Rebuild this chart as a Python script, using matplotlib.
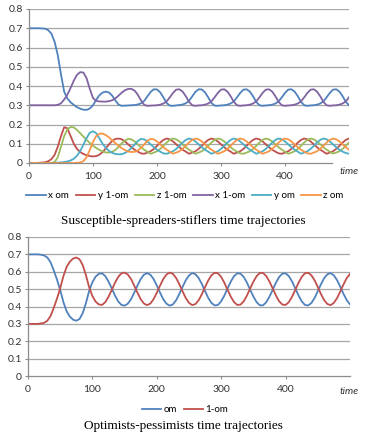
import numpy as np
import matplotlib
matplotlib.use('Agg')
from matplotlib import pyplot as plt

#############################################
#DATA (every 5 time units)
time = list(range(0, 505, 5))

x_om = [0.700, 0.700, 0.700, 0.700, 0.699, 0.698, 0.690, 0.672, 0.630, 0.560,
        0.460, 0.370, 0.335, 0.315, 0.302, 0.290, 0.282, 0.277, 0.276, 0.283,
        0.300, 0.328, 0.352, 0.366, 0.371, 0.366, 0.350, 0.325, 0.303, 0.297,
        0.298, 0.299, 0.300,
        0.301, 0.304, 0.310, 0.323, 0.346, 0.369, 0.383, 0.382, 0.367, 0.341, 0.312, 0.298, 0.297, 0.299,
        0.301, 0.304, 0.310, 0.323, 0.346, 0.369, 0.383, 0.382, 0.367, 0.341, 0.312, 0.298, 0.297, 0.299,
        0.300, 0.303, 0.309, 0.320, 0.341, 0.364, 0.381, 0.383, 0.371, 0.347, 0.318, 0.300, 0.297, 0.299,
        0.300, 0.303, 0.309, 0.320, 0.341, 0.364, 0.381, 0.383, 0.371, 0.347, 0.318, 0.300, 0.297, 0.299,
        0.300, 0.303, 0.309, 0.320, 0.341, 0.364, 0.381, 0.383, 0.371, 0.347, 0.318, 0.300]

y_1om = [0.000, 0.000, 0.000, 0.001, 0.002, 0.004, 0.009, 0.020, 0.042, 0.085,
         0.140, 0.186, 0.180, 0.140, 0.100, 0.073, 0.057, 0.047, 0.040, 0.036,
         0.034, 0.036, 0.043, 0.057, 0.076, 0.097, 0.115, 0.125, 0.127,
         0.123, 0.112, 0.097, 0.082, 0.069, 0.059, 0.050, 0.048, 0.054, 0.061, 0.073, 0.089, 0.106, 0.120, 0.127,
         0.123, 0.112, 0.097, 0.082, 0.069, 0.059, 0.048, 0.054, 0.061, 0.073, 0.089, 0.106, 0.120, 0.127,
         0.123, 0.112, 0.097, 0.082, 0.069, 0.059, 0.048, 0.054, 0.061, 0.073, 0.089, 0.106, 0.120, 0.127,
         0.123, 0.112, 0.097, 0.082, 0.069, 0.059, 0.050, 0.048, 0.054, 0.061, 0.073, 0.089, 0.106, 0.120, 0.127,
         0.123, 0.112, 0.097, 0.082, 0.069, 0.059, 0.048, 0.054, 0.061, 0.073, 0.089, 0.106, 0.120, 0.127]

z_1om = [0.000, 0.000, 0.000, 0.000, 0.000, 0.000, 0.000, 0.001, 0.005, 0.030,
         0.085, 0.140, 0.175, 0.187, 0.185, 0.172, 0.155, 0.137, 0.120, 0.104,
         0.090, 0.078, 0.068, 0.060, 0.055, 0.054, 0.058, 0.068, 0.084, 0.102,
         0.117, 0.125,
         0.123, 0.112, 0.097, 0.082, 0.069, 0.059, 0.048, 0.054, 0.061, 0.073, 0.089, 0.106, 0.120, 0.127,
         0.123, 0.112, 0.097, 0.082, 0.069, 0.059, 0.048, 0.054, 0.061, 0.073, 0.089, 0.106, 0.120, 0.127,
         0.123, 0.112, 0.097, 0.082, 0.069, 0.059, 0.050, 0.048, 0.054, 0.061, 0.073, 0.089, 0.106, 0.120, 0.127,
         0.123, 0.112, 0.097, 0.082, 0.069, 0.059, 0.048, 0.054, 0.061, 0.073, 0.089, 0.106, 0.120, 0.127,
         0.123, 0.112, 0.097, 0.082, 0.069, 0.059, 0.049, 0.054, 0.061, 0.073, 0.089, 0.106]

x_1om = [0.300, 0.300, 0.300, 0.300, 0.300, 0.300, 0.300, 0.300, 0.300,
         0.302, 0.310, 0.330, 0.355, 0.390, 0.428, 0.458, 0.472, 0.470, 0.440,
         0.385, 0.338, 0.322, 0.320, 0.319, 0.319, 0.321, 0.326, 0.336, 0.350,
         0.366, 0.378, 0.385, 0.385, 0.376, 0.355, 0.325, 0.302, 0.297, 0.298, 0.299,
         0.300, 0.303, 0.309, 0.320, 0.341, 0.364, 0.381, 0.383, 0.371, 0.347, 0.318, 0.300, 0.297, 0.299,
         0.300, 0.303, 0.309, 0.320, 0.341, 0.364, 0.381, 0.383, 0.371, 0.347, 0.318, 0.300, 0.297, 0.299,
         0.300, 0.303, 0.309, 0.320, 0.341, 0.364, 0.381, 0.383, 0.371, 0.347, 0.318, 0.300, 0.297, 0.299,
         0.300, 0.303, 0.309, 0.320, 0.341, 0.364, 0.381, 0.383, 0.371, 0.347, 0.318, 0.300, 0.297, 0.299,
         0.300, 0.303, 0.309, 0.320, 0.341]

y_om = [0.000, 0.000, 0.000, 0.000, 0.000, 0.000, 0.000, 0.000,
        0.001, 0.002, 0.003, 0.005, 0.008, 0.013, 0.022, 0.038, 0.062, 0.095,
        0.130, 0.157, 0.165, 0.155, 0.128, 0.100, 0.078, 0.063, 0.053, 0.047,
        0.045, 0.046, 0.052, 0.063, 0.078, 0.096, 0.114, 0.125,
        0.123, 0.112, 0.097, 0.082, 0.069, 0.059, 0.050, 0.048, 0.054, 0.061, 0.073, 0.089, 0.106, 0.120, 0.127,
        0.123, 0.112, 0.097, 0.082, 0.069, 0.059, 0.048, 0.054, 0.061, 0.073, 0.089, 0.106, 0.120, 0.127,
        0.123, 0.112, 0.097, 0.082, 0.069, 0.059, 0.048, 0.054, 0.061, 0.073, 0.089, 0.106, 0.120, 0.127,
        0.123, 0.112, 0.097, 0.082, 0.069, 0.059, 0.048, 0.054, 0.061, 0.073, 0.089, 0.106, 0.120, 0.127,
        0.123, 0.112, 0.097, 0.082, 0.069, 0.059, 0.052, 0.048]

z_om = [0.000, 0.000, 0.000, 0.000, 0.000, 0.000, 0.000, 0.000, 0.000, 0.000,
        0.000, 0.000, 0.000, 0.000, 0.000, 0.001, 0.003, 0.010, 0.030, 0.068,
        0.110, 0.140, 0.152, 0.153, 0.145, 0.133, 0.118, 0.103, 0.089, 0.077,
        0.067, 0.060, 0.057, 0.058, 0.065, 0.079, 0.097, 0.115, 0.125,
        0.123, 0.112, 0.097, 0.082, 0.069, 0.059, 0.048, 0.054, 0.061, 0.073, 0.089, 0.106, 0.120, 0.127,
        0.123, 0.112, 0.097, 0.082, 0.069, 0.059, 0.048, 0.054, 0.061, 0.073, 0.089, 0.106, 0.120, 0.127,
        0.123, 0.112, 0.097, 0.082, 0.069, 0.059, 0.048, 0.054, 0.061, 0.073, 0.089, 0.106, 0.120, 0.127,
        0.123, 0.112, 0.097, 0.082, 0.069, 0.059, 0.050, 0.048, 0.054, 0.061, 0.073, 0.089, 0.106, 0.120, 0.127,
        0.123, 0.112, 0.097, 0.082, 0.069]

om = [0.700, 0.700, 0.700, 0.700, 0.698, 0.694, 0.682, 0.655, 0.608, 0.555,
      0.495, 0.425, 0.372, 0.342, 0.324, 0.318, 0.328, 0.362, 0.420, 0.490,
      0.540, 0.572, 0.588, 0.591, 0.575, 0.544, 0.505, 0.464, 0.430, 0.409,
      0.405, 0.416, 0.442, 0.480, 0.521, 0.558, 0.583, 0.592, 0.583, 0.558,
      0.521, 0.480, 0.442, 0.416, 0.405, 0.412, 0.436, 0.472, 0.513, 0.551,
      0.579, 0.592, 0.586, 0.564, 0.529, 0.488, 0.449, 0.420, 0.406, 0.409,
      0.430, 0.464, 0.505, 0.544, 0.575, 0.591, 0.589, 0.570, 0.537, 0.496,
      0.457, 0.425, 0.407, 0.407, 0.425, 0.457, 0.496, 0.537, 0.570, 0.589,
      0.591, 0.575, 0.544, 0.505, 0.464, 0.430, 0.409, 0.406, 0.420, 0.449,
      0.488, 0.529, 0.564, 0.586, 0.592, 0.579, 0.551, 0.513, 0.472, 0.436,
      0.412]

one_minus_om = [0.300, 0.300, 0.300, 0.300, 0.302, 0.306, 0.318, 0.345, 0.392, 0.445,
                0.505, 0.575, 0.628, 0.658, 0.676, 0.682, 0.672, 0.638, 0.580, 0.510,
                0.460, 0.428, 0.412, 0.409, 0.425, 0.456, 0.495, 0.536, 0.570, 0.591,
                0.595, 0.584, 0.558, 0.520, 0.479, 0.442, 0.417, 0.408, 0.417, 0.442,
                0.479, 0.520, 0.558, 0.584, 0.595, 0.588, 0.564, 0.528, 0.487, 0.449,
                0.421, 0.408, 0.414, 0.436, 0.471, 0.512, 0.551, 0.580, 0.594, 0.591,
                0.570, 0.536, 0.495, 0.456, 0.425, 0.409, 0.411, 0.430, 0.463, 0.504,
                0.543, 0.575, 0.593, 0.593, 0.575, 0.543, 0.504, 0.463, 0.430, 0.411,
                0.409, 0.425, 0.456, 0.495, 0.536, 0.570, 0.591, 0.594, 0.580, 0.551,
                0.512, 0.471, 0.436, 0.414, 0.408, 0.421, 0.449, 0.487, 0.528, 0.564,
                0.588]

top_series = [('x om', x_om), ('y 1-om', y_1om), ('z 1-om', z_1om),
              ('x 1-om', x_1om), ('y om', y_om), ('z om', z_om)]
bottom_series = [('om', om), ('1-om', one_minus_om)]

x_ticks = [0, 100, 200, 300, 400]
y_ticks = [0, 0.1, 0.2, 0.3, 0.4, 0.5, 0.6, 0.7, 0.8]
#############################################

#############################################
#STYLE
colors = ['#4F81BD', '#C0504D', '#9BBB59', '#8064A2', '#4BACC6', '#F79646']
plt.rcParams['font.family'] = ['Lato', 'DejaVu Sans']
W, H = 366, 432
fig = plt.figure(figsize=(W / 100, H / 100), dpi=100)

tick_fs = 7.5
leg_fs = 7


def style_axis(ax, axis_end):
    ax.set_xlim(0, 500)
    ax.set_ylim(0, 0.8)
    ax.set_xticks(x_ticks)
    ax.set_yticks(y_ticks)
    ax.set_yticklabels(['0' if v == 0 else f'{v:.1f}' for v in y_ticks])
    ax.grid(axis='y', color='#a6a6a6', linewidth=0.9)
    ax.get_ygridlines()[0].set_visible(False)
    ax.set_axisbelow(True)
    for s in ['top', 'right']:
        ax.spines[s].set_visible(False)
    for s in ['left', 'bottom']:
        ax.spines[s].set_color('#8c8c8c')
        ax.spines[s].set_linewidth(0.9)
    ax.spines['bottom'].set_bounds(0, axis_end)
    ax.tick_params(axis='both', labelsize=tick_fs, colors='#8c8c8c',
                   labelcolor='#333333', length=2.5, width=0.8, pad=2)
    ax.tick_params(axis='x', pad=4)


#Top chart
ax1 = fig.add_axes([29 / W, 1 - 163 / H, 320 / W, 154 / H])
for (lab, vals), c in zip(top_series, colors):
    ax1.plot(time, vals, color=c, linewidth=1.3, label=lab)
style_axis(ax1, 473)
fig.text(349 / W, 1 - 172 / H, 'time', ha='center', va='center',
         fontsize=tick_fs, style='italic', color='#333333')
fig.legend(*ax1.get_legend_handles_labels(), loc='center', ncol=6,
           bbox_to_anchor=(185 / W, 1 - 196 / H), frameon=False,
           fontsize=leg_fs, handlelength=2.0, handletextpad=0.25,
           columnspacing=0.7, borderaxespad=0)
fig.text(183 / W, 1 - 221 / H, 'Susceptible-spreaders-stiflers time trajectories',
         ha='center', va='center', fontsize=9.5, family='Liberation Serif')

#Bottom chart
ax2 = fig.add_axes([28 / W, 1 - 376 / H, 322 / W, 139 / H])
for (lab, vals), c in zip(bottom_series, colors[:2]):
    ax2.plot(time, vals, color=c, linewidth=1.3, label=lab)
style_axis(ax2, 500)
fig.text(349 / W, 1 - 391 / H, 'time', ha='center', va='center',
         fontsize=tick_fs, style='italic', color='#333333')
fig.legend(*ax2.get_legend_handles_labels(), loc='center', ncol=2,
           bbox_to_anchor=(185 / W, 1 - 410 / H), frameon=False,
           fontsize=leg_fs, handlelength=2.0, handletextpad=0.25,
           columnspacing=0.7, borderaxespad=0)
fig.text(183 / W, 1 - 431.5 / H, 'Optimists-pessimists time trajectories',
         ha='center', va='bottom', fontsize=9.5, family='Liberation Serif')

fig.savefig('out.png', dpi=100)
#############################################
